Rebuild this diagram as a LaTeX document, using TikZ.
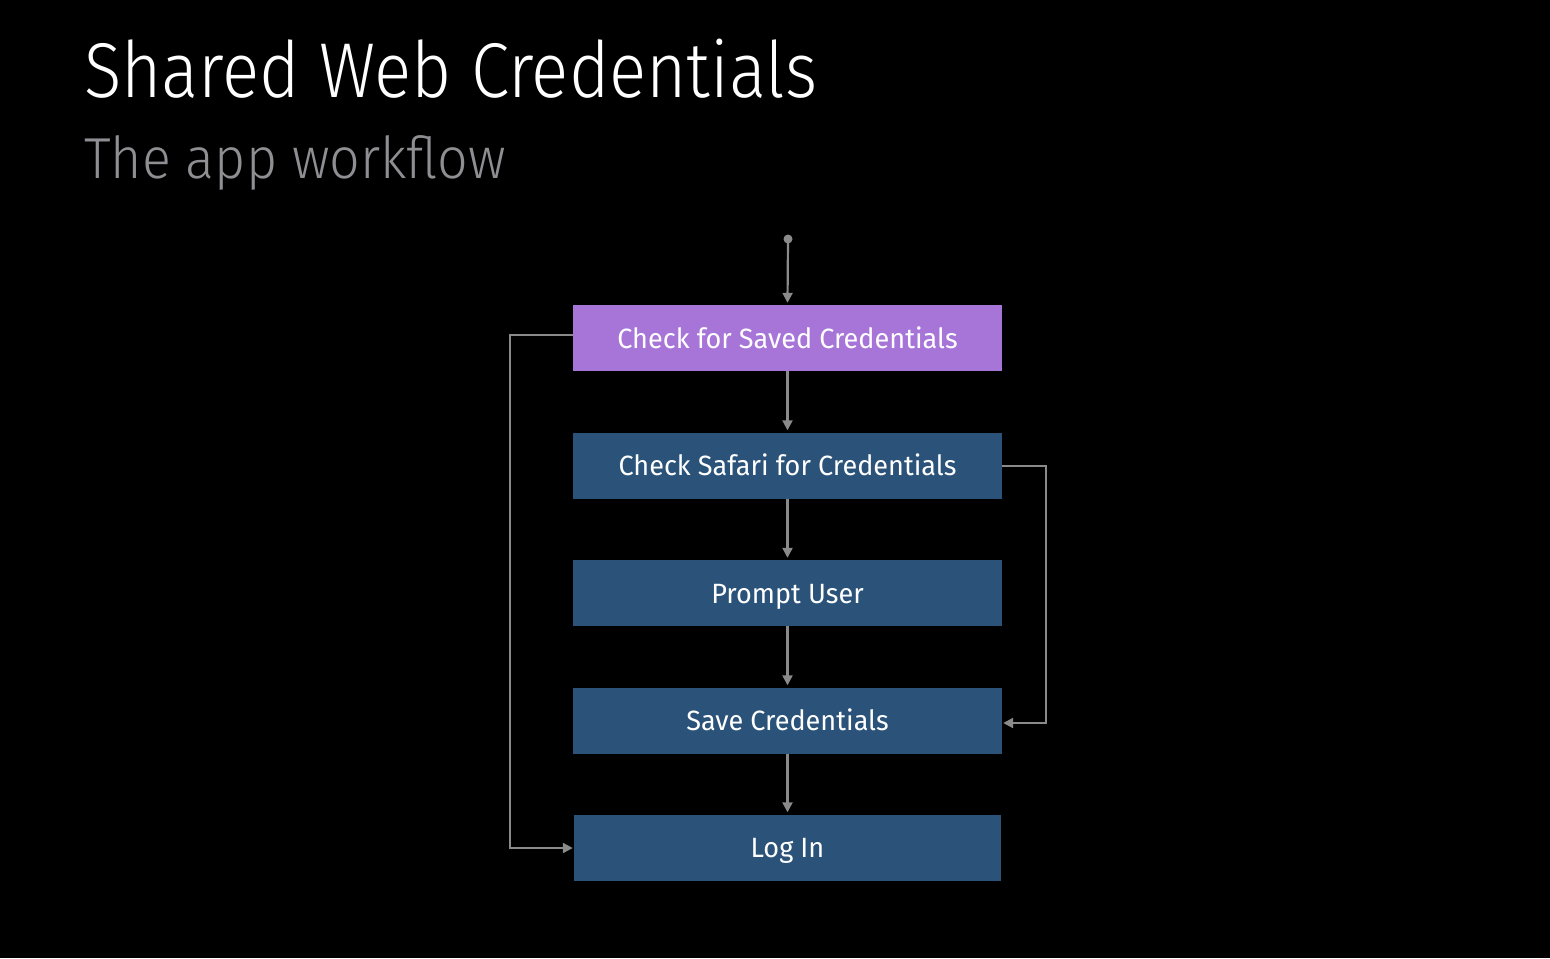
\documentclass[tikz,border=0pt]{standalone}
\usepackage{fontspec}
\setmainfont{Fira Sans}
\newfontfamily\titlefont[FakeStretch=0.89]{Fira Sans Light}
\newfontfamily\subfont[FakeStretch=0.93]{Fira Sans Light}
\newfontfamily\boxfont[FakeStretch=0.97]{Fira Sans}
\usetikzlibrary{arrows.meta}
\definecolor{purplebox}{HTML}{A775D8}
\definecolor{bluebox}{HTML}{2B5379}
\definecolor{linegray}{HTML}{8A8A8A}
\definecolor{subgray}{HTML}{8E8E93}
\tikzset{
  stepbox/.style={draw=none, minimum width=429bp, minimum height=66bp, inner sep=0pt,
    text height=26bp, text depth=6bp,
    text=white, font=\boxfont\fontsize{28}{30}\selectfont},
  flow/.style={draw=linegray, line width=2.2bp, -{Triangle[length=10bp,width=10bp]}},
}
\begin{document}
\begin{tikzpicture}[x=1bp,y=-1bp]
\fill[black] (0,0) rectangle (1550,958);
\useasboundingbox (0,0) rectangle (1550,958);
\node[anchor=base west, inner sep=0pt, text=white, font=\titlefont\fontsize{78}{80}\selectfont] (title) at (84,97) {Shared Web Credentials};
\node[anchor=base west, inner sep=0pt, text=subgray, font=\subfont\fontsize{58}{60}\selectfont] (subtitle) at (84,178) {The app workflow};
\node[stepbox, fill=purplebox] (b1) at (787.5,338) {Check for Saved Credentials};
\node[stepbox, fill=bluebox] (b2) at (787.5,465.5) {Check Safari for Credentials};
\node[stepbox, fill=bluebox] (b3) at (787.5,593) {Prompt User};
\node[stepbox, fill=bluebox] (b4) at (787.5,720.5) {Save Credentials};
\node[stepbox, fill=bluebox, minimum width=427bp] (b5) at (787.5,847.5) {Log In};
\coordinate (start) at (788,239);
\coordinate (lcorner) at (510,848);
\coordinate (rcorner) at (1046,723);
\fill[linegray] (start) circle (4.5bp);
\draw[flow] (start) -- ([yshift=2bp]b1.north);
\draw[flow] (b1) -- ([yshift=2bp]b2.north);
\draw[flow] (b2) -- ([yshift=2bp]b3.north);
\draw[flow] (b3) -- ([yshift=2bp]b4.north);
\draw[flow] (b4) -- ([yshift=2bp]b5.north);
\draw[flow] ([yshift=3bp]b1.west) -| (lcorner) -- ([xshift=-1bp]b5.west |- lcorner);
\draw[flow] ([yshift=-0.5bp]b2.east) -| (rcorner) -- ([xshift=1bp]b4.east |- rcorner);
\end{tikzpicture}
\end{document}
